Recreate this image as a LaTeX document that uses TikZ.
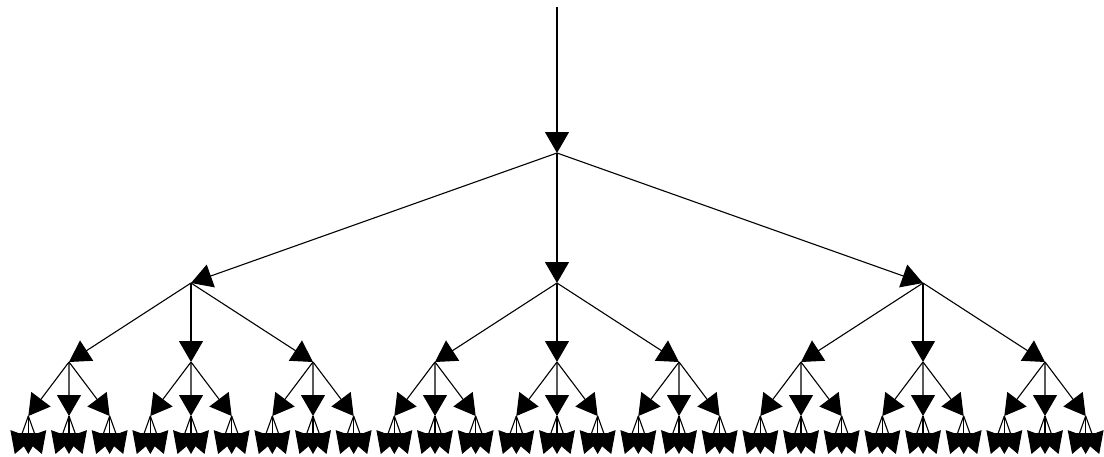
\documentclass[tikz,border=0pt]{standalone}
\usetikzlibrary{arrows.meta}
\begin{document}
\begin{tikzpicture}[
  arrowtip/.style={-{Triangle[length=21pt,width=24pt]}},
  link/.style={draw, line width=1.1pt, arrowtip},
  edge from parent/.style={link},
  level 1/.style={level distance=130pt, sibling distance=366pt},
  level 2/.style={level distance=79pt, sibling distance=122pt},
  level 3/.style={level distance=54pt, sibling distance=40.67pt},
  level 4/.style={level distance=38pt, sibling distance=13.56pt}
]
\useasboundingbox (0pt,0pt) rectangle (1104pt,-456pt);
% incoming edge from above the root
\coordinate (in) at (557pt,-7pt);
% ternary tree, four levels below the root
\node[coordinate] (n) at (557pt,-153pt) {}
  child foreach \a in {1,2,3} {node[coordinate] {}
    child foreach \b in {1,2,3} {node[coordinate] {}
      child foreach \c in {1,2,3} {node[coordinate] {}
        child foreach \d in {1,2,3} {node[coordinate] {}}}}};
\draw[link] (in) -- (n);
\end{tikzpicture}
\end{document}
